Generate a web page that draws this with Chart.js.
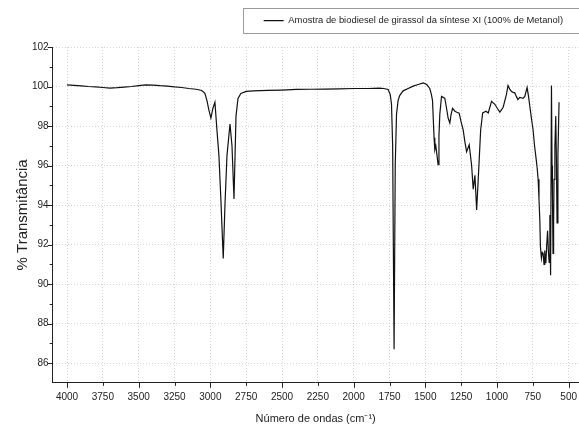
<!DOCTYPE html>
<html>
<head>
<meta charset="utf-8">
<script src="https://cdn.jsdelivr.net/npm/chart.js@4.4.1/dist/chart.umd.min.js"></script>
<style>
  html, body { margin: 0; padding: 0; background: #fff; }
  #wrap { width: 579px; height: 432px; }
</style>
</head>
<body>
<div id="wrap"><canvas id="c" width="579" height="432"></canvas></div>
<script>
// ---- data ----
const seriesLabel = "Amostra de biodiesel de girassol da síntese XI (100% de Metanol)";
const xTitle = "Número de ondas (cm⁻¹)";
const yTitle = "% Transmitância";

const wavenumbers = [4000, 3950, 3900, 3850, 3800, 3750, 3700, 3650, 3600, 3550, 3500, 3450, 3400, 3350, 3300, 3250, 3200, 3150, 3100, 3060,
  3038, 3024, 3010, 2996, 2982, 2968, 2954, 2940, 2926, 2910, 2898, 2884, 2863, 2849, 2835, 2821, 2807, 2787, 2750, 2700,
  2600, 2500, 2400, 2300, 2200, 2100, 2000, 1900, 1820, 1790, 1760, 1745, 1736, 1728, 1718, 1710, 1701, 1690, 1678, 1655,
  1620, 1585, 1550, 1515, 1490, 1469, 1458, 1450, 1439, 1434, 1427, 1420, 1411, 1405, 1399, 1387, 1375, 1364, 1352, 1341,
  1329, 1320, 1310, 1294, 1280, 1264, 1250, 1236, 1224, 1212, 1194, 1177, 1166, 1154, 1142, 1131, 1114, 1100, 1077, 1061,
  1038, 1015, 998, 980, 957, 934, 923, 910, 900, 888, 876, 865, 854, 842, 830, 818, 806, 790, 780, 771,
  760, 748, 738, 729, 720, 713, 707, 701, 697, 690, 684, 678, 672, 667, 663, 659, 653, 647, 641, 636,
  631, 626, 620, 616, 613, 609, 605, 602, 596, 590, 585, 581, 575, 567];

const transmittance = [100.08, 100.06, 100.03, 100.0, 99.98, 99.95, 99.92, 99.94, 99.97, 100.0, 100.04, 100.08, 100.07, 100.04, 100.02, 99.98, 99.95, 99.9, 99.86, 99.8,
  99.65, 99.3, 98.8, 98.4, 98.9, 99.2, 97.8, 96.5, 94.2, 91.3, 94.0, 96.5, 98.1, 97.0, 94.3, 98.5, 99.4, 99.65, 99.75, 99.78,
  99.8, 99.82, 99.85, 99.86, 99.87, 99.88, 99.9, 99.9, 99.92, 99.9, 99.85, 99.6, 99.1, 97.0, 86.7, 96.0, 98.6, 99.3, 99.55, 99.78,
  99.9, 100.02, 100.1, 100.18, 100.1, 99.9, 99.6, 99.3, 97.4, 96.8, 97.0, 96.6, 96.05, 97.5, 98.6, 99.5, 99.45, 99.4, 98.9, 98.4,
  98.15, 98.6, 98.9, 98.75, 98.7, 98.65, 98.2, 97.8, 97.2, 96.7, 97.05, 96.0, 94.8, 95.5, 93.75, 95.3, 97.8, 98.66, 98.75, 98.66,
  99.25, 99.1, 98.9, 98.7, 98.95, 99.6, 100.05, 99.85, 99.76, 99.7, 99.68, 99.5, 99.34, 99.45, 99.43, 99.4, 99.5, 99.95, 99.5, 99.0,
  98.4, 97.8, 97.0, 96.46, 95.9, 95.3, 94.3, 93.2, 91.9, 91.3, 91.6, 91.55, 91.0, 91.7, 91.3, 91.05, 92.0, 92.7, 91.6, 91.1,
  93.5, 90.45, 100.05, 96.0, 94.4, 91.55, 93.0, 95.3, 97.0, 98.5, 96.0, 93.1, 96.5, 99.2];

const xTickValues = [4000, 3750, 3500, 3250, 3000, 2750, 2500, 2250, 2000, 1750, 1500, 1250, 1000, 750, 500];
const yTickValues = [86, 88, 90, 92, 94, 96, 98, 100, 102];
const xRange = [430, 4100];
const yRange = [85, 102];

// ---- chart ----
const FONT = "'Liberation Sans', Arial, sans-serif";
const points = wavenumbers.map((w, i) => ({ x: w, y: transmittance[i] }));

const frameAndTicks = {
  id: 'frameAndTicks',
  beforeLayout(chart) {
    const lg = chart.legend;
    if (lg && !lg._patched) {
      const orig = lg.fit;
      lg.fit = function () { orig.call(this); this.height = 47; };
      lg._patched = true;
    }
  },
  afterDraw(chart) {
    const ctx = chart.ctx, a = chart.chartArea;
    const xs = chart.scales.x, ys = chart.scales.y;
    ctx.save();
    ctx.strokeStyle = '#222';
    ctx.lineWidth = 1;
    ctx.beginPath();
    for (let v = 86; v <= 102; v++) {
      const py = Math.round(ys.getPixelForValue(v)) + 0.5;
      const len = (v % 2 === 0) ? 5 : 3;
      ctx.moveTo(a.left, py); ctx.lineTo(a.left - len, py);
    }
    for (let v = 500; v <= 4000; v += 250) {
      const px = Math.round(xs.getPixelForValue(v)) + 0.5;
      const len = (v % 500 === 0) ? 5 : 3;
      ctx.moveTo(px, a.bottom); ctx.lineTo(px, a.bottom + len);
    }
    ctx.stroke();
    const lg = chart.legend;
    if (lg && lg.legendHitBoxes && lg.legendHitBoxes.length) {
      const hb = lg.legendHitBoxes[0];
      ctx.strokeStyle = '#9a9a9a';
      const left = Math.round(hb.left) - 20.5;
      ctx.strokeRect(left, 8.5, chart.width - left + 5, 25);
    }
    ctx.restore();
  }
};

new Chart(document.getElementById('c'), {
  type: 'line',
  data: {
    datasets: [{
      label: seriesLabel,
      data: points,
      borderColor: '#111',
      backgroundColor: '#111',
      borderWidth: 1.2,
      pointRadius: 0,
      tension: 0,
      fill: false
    }]
  },
  options: {
    responsive: false,
    animation: false,
    layout: { padding: { top: 0, right: 0, left: 14, bottom: 6 } },
    plugins: {
      tooltip: { enabled: false },
      legend: {
        position: 'top',
        align: 'end',
        labels: {
          boxWidth: 20,
          boxHeight: 0,
          padding: 16,
          color: '#222',
          font: { family: FONT, size: 9.4 }
        }
      }
    },
    scales: {
      x: {
        type: 'linear',
        reverse: true,
        min: xRange[0],
        max: xRange[1],
        afterBuildTicks: (s) => { s.ticks = xTickValues.map(v => ({ value: v })); },
        ticks: { color: '#222', font: { family: FONT, size: 10 }, padding: 2, maxRotation: 0, autoSkip: false, callback: (v) => String(v) },
        grid: { color: 'rgba(170,170,170,0.5)', lineWidth: 1, drawTicks: true, tickLength: 6, tickColor: 'rgba(0,0,0,0)' },
        border: { display: true, color: '#222', width: 1, dash: [1, 2] },
        title: { display: true, text: xTitle, color: '#222', font: { family: FONT, size: 11 }, padding: { top: 8, bottom: 0 } }
      },
      y: {
        type: 'linear',
        min: yRange[0],
        max: yRange[1],
        afterBuildTicks: (s) => { s.ticks = yTickValues.map(v => ({ value: v })); },
        ticks: { color: '#222', font: { family: FONT, size: 10 }, padding: 0, callback: (v) => String(v) },
        grid: { color: 'rgba(170,170,170,0.5)', lineWidth: 1, drawTicks: true, tickLength: 4, tickColor: 'rgba(0,0,0,0)' },
        border: { display: true, color: '#222', width: 1, dash: [1, 2] },
        title: { display: true, text: yTitle, color: '#222', font: { family: FONT, size: 15 }, padding: { top: 0, bottom: 0 } }
      }
    }
  },
  plugins: [frameAndTicks]
});
</script>
</body>
</html>
